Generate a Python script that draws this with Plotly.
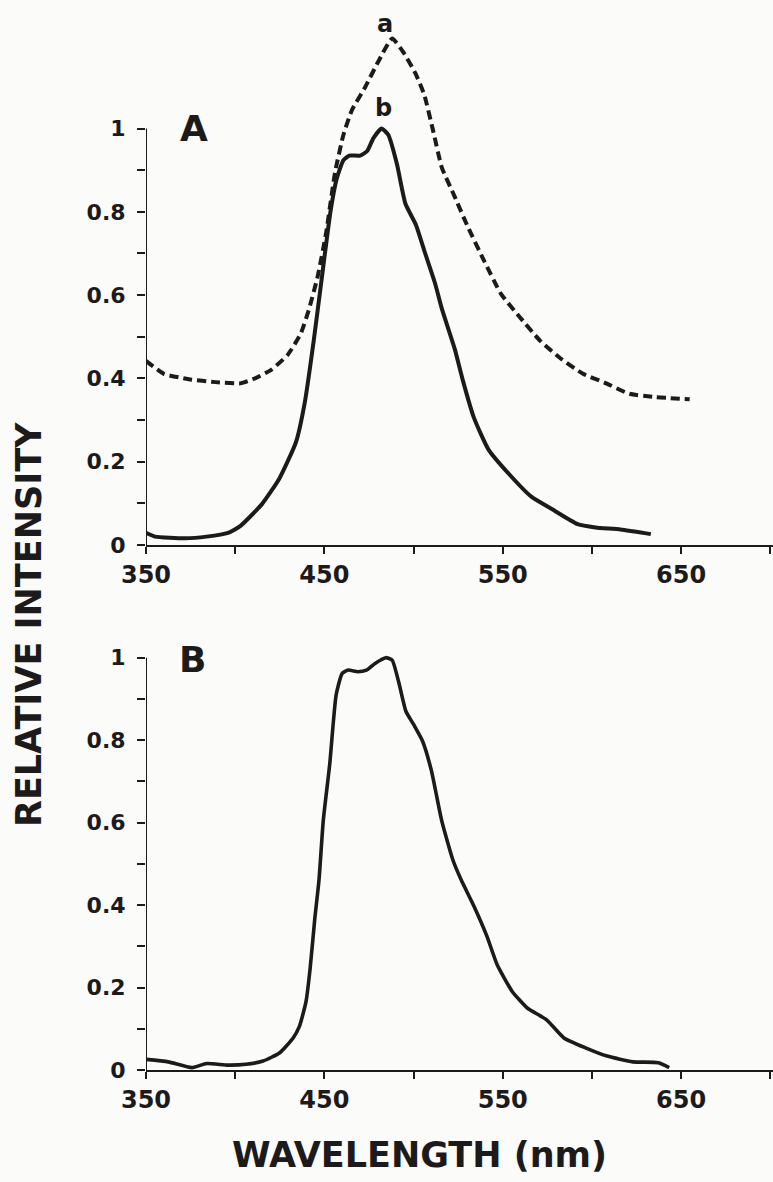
import plotly.graph_objects as go

# ---- Data ----
# Panel A, curve a (dashed)
wl_a = [350, 360, 374, 389, 403, 410, 420, 429.5, 436.7, 441.5, 446.3, 451, 456, 460.7,
        465.5, 472.7, 480, 488, 494, 501, 506, 511, 515.8, 523, 530, 539.7, 549, 559,
        571, 583, 595, 607, 621, 635.6, 654.8]
int_a = [0.442, 0.411, 0.398, 0.391, 0.388, 0.398, 0.42, 0.457, 0.507, 0.568, 0.646, 0.75,
         0.895, 0.985, 1.045, 1.098, 1.159, 1.216, 1.185, 1.133, 1.081, 0.994, 0.907, 0.837,
         0.768, 0.681, 0.603, 0.55, 0.49, 0.446, 0.411, 0.39, 0.363, 0.355, 0.35]

# Panel A, curve b (solid)
wl_b = [350, 355, 372, 384, 396, 403, 415, 424.7, 434, 439, 444, 448.7, 453.5, 457, 460.7,
        464, 470, 474, 477.5, 482, 485.8, 490.6, 495.4, 501.4, 506, 512, 515.8, 523, 527.7,
        533.7, 542, 554, 566, 578, 592, 602, 616, 633]
int_b = [0.029, 0.02, 0.016, 0.02, 0.029, 0.046, 0.098, 0.159, 0.246, 0.342, 0.49, 0.646,
         0.803, 0.881, 0.924, 0.935, 0.935, 0.946, 0.977, 1.0, 0.985, 0.916, 0.82, 0.768,
         0.707, 0.629, 0.568, 0.472, 0.394, 0.307, 0.229, 0.168, 0.116, 0.085, 0.05, 0.042,
         0.037, 0.026]

# Panel B (solid)
wl_B = [350, 362.5, 375.8, 384, 396, 406, 415.6, 425, 432.5, 436, 439.7, 442, 444.6, 447,
        449.4, 453, 456.6, 460, 463.4, 468.7, 473.6, 478.4, 484.4, 488, 491.6, 495.7, 500,
        505, 510, 515.7, 522, 526.6, 533.8, 541, 547, 555.4, 563.9, 574.6, 584.3, 596.4,
        608.5, 622.9, 637.3, 643.3]
int_B = [0.026, 0.02, 0.006, 0.016, 0.012, 0.014, 0.022, 0.042, 0.078, 0.106, 0.166, 0.246,
         0.366, 0.462, 0.606, 0.742, 0.91, 0.962, 0.97, 0.966, 0.97, 0.986, 1.0, 0.994,
         0.942, 0.87, 0.838, 0.798, 0.726, 0.606, 0.51, 0.462, 0.398, 0.326, 0.254, 0.19,
         0.15, 0.122, 0.078, 0.054, 0.034, 0.02, 0.018, 0.006]

x_major = [350, 450, 550, 650]
x_minor = [400, 500, 600, 700]
y_major = [0, 0.2, 0.4, 0.6, 0.8, 1]
y_minor = [0.1, 0.3, 0.5, 0.7, 0.9]

INK = "#1c1a1a"
BG = "#fbfbf9"
FONT = "DejaVu Sans"

fig = go.Figure()

fig.add_trace(go.Scatter(x=wl_a, y=int_a, mode="lines", xaxis="x", yaxis="y",
                         line=dict(color=INK, width=4, dash="9px,5px", shape="spline", smoothing=0.5),
                         showlegend=False, hoverinfo="skip"))
fig.add_trace(go.Scatter(x=wl_b, y=int_b, mode="lines", xaxis="x", yaxis="y",
                         line=dict(color=INK, width=4, shape="spline", smoothing=0.5),
                         showlegend=False, hoverinfo="skip"))
fig.add_trace(go.Scatter(x=wl_B, y=int_B, mode="lines", xaxis="x2", yaxis="y2",
                         line=dict(color=INK, width=3.6, shape="spline", smoothing=0.5),
                         showlegend=False, hoverinfo="skip"))

xaxis_common = dict(range=[350, 701.5], showline=True, linecolor=INK, linewidth=2,
                    showgrid=False, zeroline=False, ticks="outside", ticklen=7,
                    tickwidth=2, tickcolor=INK, tickmode="array", tickvals=x_major,
                    ticktext=[str(v) for v in x_major],
                    tickfont=dict(family=FONT, size=24, color=INK, weight="bold"),
                    minor=dict(tickmode="array", tickvals=x_minor, ticks="outside",
                               ticklen=7, tickwidth=2, tickcolor=INK, showgrid=False),
                    fixedrange=True)
yaxis_common = dict(showline=False, showgrid=False, zeroline=False, ticks="outside",
                    ticklen=8, tickwidth=2, tickcolor=INK, tickmode="array",
                    tickvals=y_major, ticktext=["0", "0.2", "0.4", "0.6", "0.8", "1"],
                    tickfont=dict(family=FONT, size=22, color=INK, weight="bold"),
                    ticklabelstandoff=7,
                    minor=dict(tickmode="array", tickvals=y_minor, ticks="outside",
                               ticklen=8, tickwidth=2, tickcolor=INK, showgrid=False),
                    fixedrange=True)

fig.update_layout(
    width=773, height=1182,
    margin=dict(l=146, r=0, t=0, b=0),
    paper_bgcolor=BG, plot_bgcolor=BG,
    xaxis=dict(domain=[0, 1], anchor="y", **xaxis_common),
    yaxis=dict(domain=[0.53384, 0.98621], range=[0, 1.27], anchor="x", **yaxis_common),
    xaxis2=dict(domain=[0, 1], anchor="y2", **xaxis_common),
    yaxis2=dict(domain=[0.0846, 0.45152], range=[0, 1.04], anchor="x2", **yaxis_common),
    shapes=[
        dict(type="line", xref="x", yref="y", x0=350, x1=350, y0=0, y1=1,
             line=dict(color=INK, width=2)),
        dict(type="line", xref="x2", yref="y2", x0=350, x1=350, y0=0, y1=1,
             line=dict(color=INK, width=2)),
    ],
    annotations=[
        dict(text="A", xref="x", yref="y", x=377, y=1.0, showarrow=False,
             font=dict(family=FONT, size=36, color=INK, weight="bold")),
        dict(text="B", xref="x2", yref="y2", x=375.8, y=0.995, showarrow=False,
             font=dict(family=FONT, size=36, color=INK, weight="bold")),
        dict(text="a", xref="x", yref="y", x=484, y=1.25, showarrow=False,
             font=dict(family=FONT, size=24, color=INK, weight="bold")),
        dict(text="b", xref="x", yref="y", x=483, y=1.05, showarrow=False,
             font=dict(family=FONT, size=24, color=INK, weight="bold")),
        dict(text="WAVELENGTH (nm)", xref="paper", yref="paper", x=0.4370, y=0.012,
             xanchor="center", yanchor="middle", showarrow=False,
             font=dict(family=FONT, size=35, color=INK, weight="bold")),
        dict(text="RELATIVE INTENSITY", xref="paper", yref="paper", x=-0.1866,
             y=0.4653, xanchor="center", yanchor="middle", textangle=-90, showarrow=False,
             font=dict(family=FONT, size=35, color=INK, weight="bold")),
    ],
)

fig.write_html("out.html", config={"displayModeBar": False},
               post_script="document.body.style.margin='0px';")
